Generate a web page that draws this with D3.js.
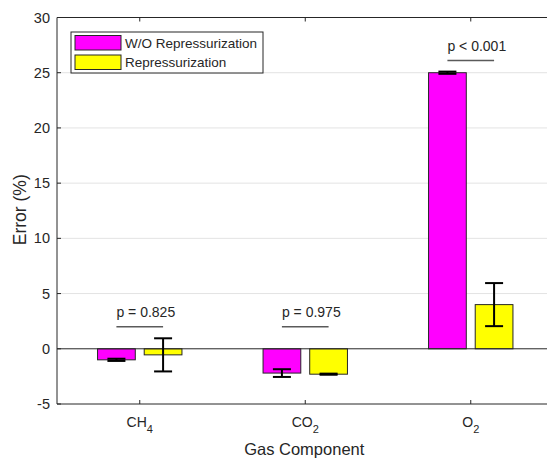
<!DOCTYPE html>
<html>
<head>
<meta charset="utf-8">
<script src="https://cdn.jsdelivr.net/npm/d3@7/dist/d3.min.js"></script>
<style>
  body { margin: 0; background: #fff; }
  svg text { font-family: 'Liberation Sans', Arial, sans-serif; fill: #262626; }
</style>
</head>
<body>
<div id="chart"></div>
<script>
// data
const categories = ['CH', 'CO', 'O']
const categorySubs = ['4', '2', '2']
const seriesNames = ['W/O Repressurization', 'Repressurization']
const seriesColours = ['#ff00ff', '#ffff00']
const woValues = [-1.0, -2.2, 25.0]
const woErrors = [0.1, 0.35, 0.1]
const reValues = [-0.55, -2.3, 4.0]
const reErrors = [1.5, 0.05, 1.95]
const pLabels = ['p = 0.825', 'p = 0.975', 'p < 0.001']
const pLineY = [2, 2, 26.1]
const yTicks = [-5, 0, 5, 10, 15, 20, 25, 30]

const width = 547
const height = 460
const margin = { left: 57, top: 17.5, bottom: 56 }
const catStep = 165.5

let svg = d3.select('#chart').append('svg')
    .attr('width', width)
    .attr('height', height)

let x = d3.scaleLinear()
    .domain([0.5, 3.5])
    .range([margin.left, margin.left + 3 * catStep])

let y = d3.scaleLinear()
    .domain([-5, 30])
    .range([height - margin.bottom, margin.top])

let barOffset = 0.141
let barWidth = x(0.228) - x(0)
let capHalf = 9

// grid
svg.append('g')
    .selectAll('line')
    .data(yTicks.filter(d => d > -5 && d < 30 && d !== 0))
    .enter().append('line')
    .attr('x1', x(0.5))
    .attr('x2', width)
    .attr('y1', d => y(d))
    .attr('y2', d => y(d))
    .attr('stroke', '#e3e3e3')
    .attr('stroke-width', 1)

// bars
let series = [
    { values: woValues, errors: woErrors, off: -barOffset, colour: seriesColours[0] },
    { values: reValues, errors: reErrors, off: barOffset, colour: seriesColours[1] }
]

series.forEach(s => {
    svg.append('g')
        .selectAll('rect')
        .data(s.values)
        .enter().append('rect')
        .attr('x', (d, i) => x(i + 1 + s.off) - barWidth / 2)
        .attr('y', d => y(Math.max(0, d)))
        .attr('width', barWidth)
        .attr('height', d => Math.abs(y(d) - y(0)))
        .attr('fill', s.colour)
        .attr('stroke', '#262626')
        .attr('stroke-width', 1)
})

// baseline
svg.append('line')
    .attr('x1', x(0.5))
    .attr('x2', width)
    .attr('y1', y(0))
    .attr('y2', y(0))
    .attr('stroke', '#262626')
    .attr('stroke-width', 1)

// error bars
series.forEach(s => {
    let g = svg.append('g')
        .selectAll('g')
        .data(s.values)
        .enter().append('g')
        .attr('stroke', '#000')
        .attr('stroke-width', 2)
    g.append('line')
        .attr('x1', (d, i) => x(i + 1 + s.off))
        .attr('x2', (d, i) => x(i + 1 + s.off))
        .attr('y1', (d, i) => y(d - s.errors[i]))
        .attr('y2', (d, i) => y(d + s.errors[i]))
    ;[-1, 1].forEach(sign => {
        g.append('line')
            .attr('x1', (d, i) => x(i + 1 + s.off) - capHalf)
            .attr('x2', (d, i) => x(i + 1 + s.off) + capHalf)
            .attr('y1', (d, i) => y(d + sign * s.errors[i]))
            .attr('y2', (d, i) => y(d + sign * s.errors[i]))
    })
})

// p-value annotations
let ann = svg.append('g')
    .selectAll('g')
    .data(pLabels)
    .enter().append('g')
ann.append('line')
    .attr('x1', (d, i) => x(i + 1 - barOffset))
    .attr('x2', (d, i) => x(i + 1 + barOffset))
    .attr('y1', (d, i) => y(pLineY[i]))
    .attr('y2', (d, i) => y(pLineY[i]))
    .attr('stroke', '#5a5a5a')
    .attr('stroke-width', 1.5)
ann.append('text')
    .attr('x', (d, i) => x(i + 1 - barOffset))
    .attr('y', (d, i) => y(pLineY[i]) - 10)
    .style('font-size', '14px')
    .text(d => d)

// axes frame
let axisColour = '#262626'
svg.append('line')
    .attr('x1', x(0.5)).attr('x2', x(0.5))
    .attr('y1', y(30)).attr('y2', y(-5))
    .attr('stroke', axisColour)
svg.append('line')
    .attr('x1', x(0.5)).attr('x2', width)
    .attr('y1', y(30)).attr('y2', y(30))
    .attr('stroke', axisColour)
svg.append('line')
    .attr('x1', x(0.5)).attr('x2', width)
    .attr('y1', y(-5)).attr('y2', y(-5))
    .attr('stroke', axisColour)

// x ticks (inward, top and bottom)
categories.forEach((c, i) => {
    svg.append('line')
        .attr('x1', x(i + 1)).attr('x2', x(i + 1))
        .attr('y1', y(-5)).attr('y2', y(-5) - 4)
        .attr('stroke', axisColour)
    svg.append('line')
        .attr('x1', x(i + 1)).attr('x2', x(i + 1))
        .attr('y1', y(30)).attr('y2', y(30) + 4)
        .attr('stroke', axisColour)
})

// x tick labels with subscripts
let xt = svg.append('g')
    .selectAll('text')
    .data(categories)
    .enter().append('text')
    .attr('x', (d, i) => x(i + 1))
    .attr('y', y(-5) + 23)
    .attr('text-anchor', 'middle')
    .style('font-size', '14px')
xt.append('tspan').text(d => d)
xt.append('tspan')
    .attr('dy', 6)
    .style('font-size', '11px')
    .text((d, i) => categorySubs[i])

// y ticks and labels
svg.append('g')
    .selectAll('line')
    .data(yTicks)
    .enter().append('line')
    .attr('x1', x(0.5)).attr('x2', x(0.5) + 4)
    .attr('y1', d => y(d)).attr('y2', d => y(d))
    .attr('stroke', axisColour)
svg.append('g')
    .selectAll('text')
    .data(yTicks)
    .enter().append('text')
    .attr('x', x(0.5) - 7)
    .attr('y', d => y(d) + 5)
    .attr('text-anchor', 'end')
    .style('font-size', '14.5px')
    .text(d => d)

// axis labels
svg.append('text')
    .attr('x', (x(0.5) + x(3.5)) / 2 - 1)
    .attr('y', 455)
    .attr('text-anchor', 'middle')
    .style('font-size', '16.5px')
    .text('Gas Component')
svg.append('text')
    .attr('transform', 'translate(26,' + ((y(30) + y(-5)) / 2 - 1) + ') rotate(-90)')
    .attr('text-anchor', 'middle')
    .style('font-size', '17.5px')
    .text('Error (%)')

// legend
let legend = svg.append('g').attr('transform', 'translate(71,32)')
legend.append('rect')
    .attr('width', 192)
    .attr('height', 41)
    .attr('fill', '#fff')
    .attr('stroke', axisColour)
let items = legend.selectAll('g.item')
    .data(seriesNames)
    .enter().append('g')
    .attr('class', 'item')
    .attr('transform', (d, i) => 'translate(4,' + (3.5 + i * 19.5) + ')')
items.append('rect')
    .attr('width', 46)
    .attr('height', 14.5)
    .attr('fill', (d, i) => seriesColours[i])
    .attr('stroke', axisColour)
items.append('text')
    .attr('x', 50)
    .attr('y', 12)
    .style('font-size', '13.5px')
    .text(d => d)
</script>
</body>
</html>
